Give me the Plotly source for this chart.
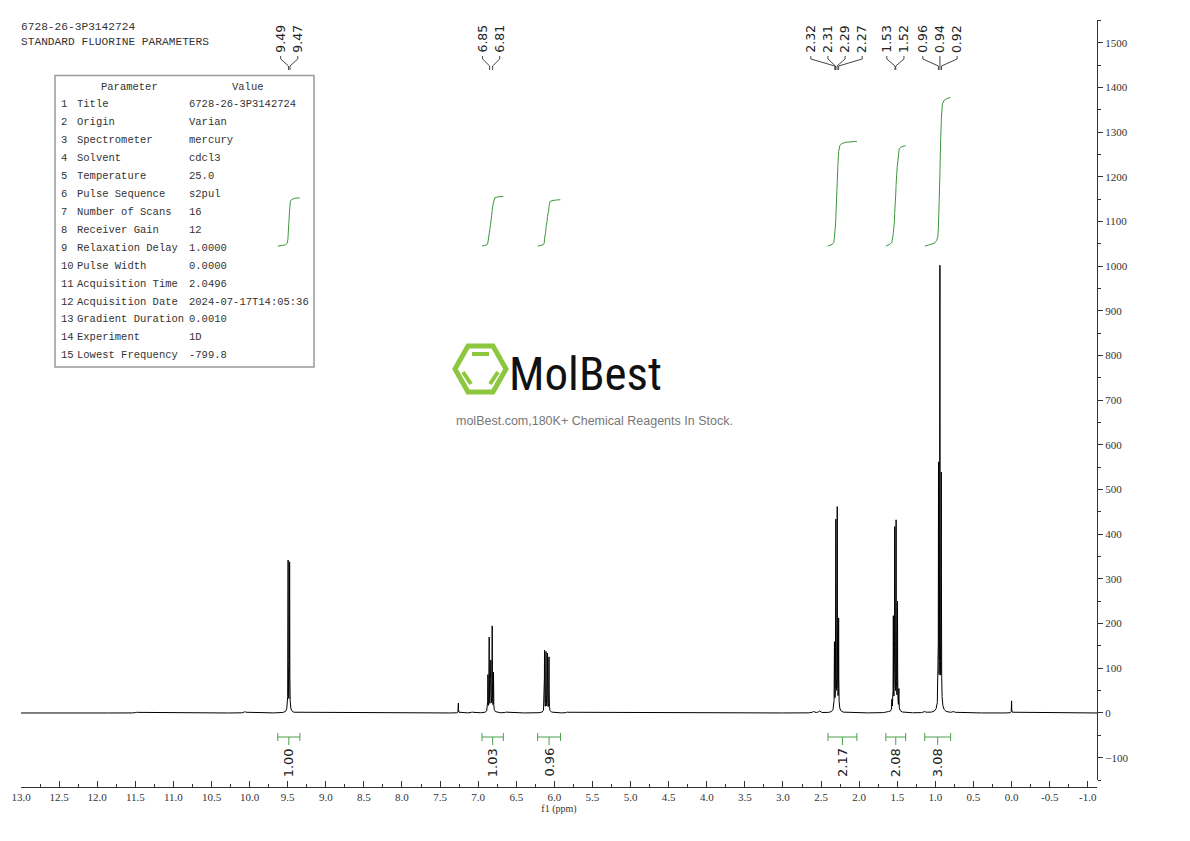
import numpy as np
import plotly.graph_objects as go

# ---------------- data ----------------
# main resonances (ppm, peak height in spectrum units)
PEAK_PPM = [9.4945, 9.4747,
            7.2600,
            6.8725, 6.8555, 6.8385, 6.8330, 6.8160, 6.7990,
            6.1294, 6.1096, 6.0904, 6.0706,
            2.3245, 2.3063, 2.2880, 2.2698,
            1.5700, 1.5518, 1.5336, 1.5154, 1.4972, 1.4790,
            0.9588, 0.9405, 0.9222,
            0.0000]
PEAK_HEIGHT = [336, 332,
               22,
               80, 163, 95, 100, 188, 85,
               137, 132, 128, 122,
               147, 420, 448, 200,
               22, 205, 402, 417, 237, 45,
               538, 980, 515,
               27]
# tiny impurity bumps on the baseline
MINOR_PPM = [11.48, 10.06, 7.08, 6.63, 5.83, 2.60, 2.52, 1.63, 1.14, 0.76]
MINOR_HEIGHT = [2, 3, 2, 2, 2, 3, 4, 2, 3, 3]

PEAK_LABELS = [9.49, 9.47, 6.85, 6.81, 2.32, 2.31, 2.29, 2.27,
               1.53, 1.52, 0.96, 0.94, 0.92]

INTEGRAL_VALUES = [1.00, 1.03, 0.96, 2.17, 2.08, 3.08]
INTEGRAL_FROM = [9.63, 6.95, 6.22, 2.41, 1.65, 1.14]
INTEGRAL_TO = [9.34, 6.67, 5.92, 2.03, 1.39, 0.80]

X_TICK_VALUES = [13.0 - 0.5 * i for i in range(29)]
X_TICK_TEXT = ["%.1f" % v for v in X_TICK_VALUES]
Y_TICK_VALUES = [-100 + 100 * i for i in range(17)]

HEADER_LINES = ["6728-26-3P3142724", "STANDARD FLUORINE PARAMETERS"]
TABLE_HEAD = ["Parameter", "Value"]
TABLE_PARAMS = ["Title", "Origin", "Spectrometer", "Solvent", "Temperature",
                "Pulse Sequence", "Number of Scans", "Receiver Gain",
                "Relaxation Delay", "Pulse Width", "Acquisition Time",
                "Acquisition Date", "Gradient Duration", "Experiment",
                "Lowest Frequency"]
TABLE_VALUES = ["6728-26-3P3142724", "Varian", "mercury", "cdcl3", "25.0",
                "s2pul", "16", "12", "1.0000", "0.0000", "2.0496",
                "2024-07-17T14:05:36", "0.0010", "1D", "-799.8"]
BRAND = "MolBest"
SLOGAN = "molBest.com,180K+ Chemical Reagents In Stock."

# ---------------- styling / layout constants ----------------
# the page body adds an 8 px margin; the figure is sized to fit inside it
OFF = 8
W, H = 1190 - 2 * OFF, 841 - 2 * OFF
PLOT_L, PLOT_R, PLOT_T, PLOT_B = 21, 1097, 20, 787      # plot area in screen pixels
ML, MT = PLOT_L - OFF, PLOT_T - OFF
MR, MB = W - (PLOT_R - OFF), H - (PLOT_B - OFF)
PW, PH = PLOT_R - PLOT_L, PLOT_B - PLOT_T
X_RANGE = [13.0, -1.121]
Y_RANGE = [-150, 1551]
LINE_FWHM = 0.0035
FOOT_FWHM = 0.035
FOOT_FRAC = 0.025
MINOR_FWHM = 0.03
INT_BASE = 1045
INT_UNIT = 108
GREEN = "#3c963c"
GREEN_BR = "#4aa04a"
AXC = "#333333"


def px(x):
    return (x - PLOT_L) / PW


def py(y):
    return (PLOT_B - y) / PH


def lor(x, x0, w):
    return 1.0 / (1.0 + ((x - x0) / (w / 2.0)) ** 2)


# ---------------- spectrum ----------------
grid = [np.arange(-1.15, 13.05, 0.004)]
for p in PEAK_PPM:
    grid.append(np.arange(p - 0.08, p + 0.08, 0.0004))
x = np.unique(np.round(np.concatenate(grid), 5))
y = np.zeros_like(x)
for p, h in zip(PEAK_PPM, PEAK_HEIGHT):
    y += h * ((1 - FOOT_FRAC) * lor(x, p, LINE_FWHM) + FOOT_FRAC * lor(x, p, FOOT_FWHM))
for p, h in zip(MINOR_PPM, MINOR_HEIGHT):
    y += h * lor(x, p, MINOR_FWHM)

fig = go.Figure()
fig.add_trace(go.Scatter(x=x, y=y, mode="lines", line=dict(color="black", width=1),
                         hoverinfo="skip", showlegend=False))

# ---------------- integral curves ----------------
shapes = []
annotations = []
for val, a, b in zip(INTEGRAL_VALUES, INTEGRAL_FROM, INTEGRAL_TO):
    m = (x <= a) & (x >= b)
    xs = x[m][::-1]
    ys = y[m][::-1]
    cum = np.concatenate([[0], np.cumsum(0.5 * (ys[1:] + ys[:-1]) * np.abs(np.diff(xs)))])
    cum = cum / cum[-1]
    fig.add_trace(go.Scatter(x=xs, y=INT_BASE + val * INT_UNIT * cum, mode="lines",
                             line=dict(color=GREEN, width=1), hoverinfo="skip",
                             showlegend=False))
    c = (a + b) / 2
    yb = py(737)
    shapes.append(dict(type="line", xref="x", yref="paper", x0=a, x1=b, y0=yb, y1=yb,
                       line=dict(color=GREEN_BR, width=1)))
    for xe in (a, b):
        shapes.append(dict(type="line", xref="x", yref="paper", x0=xe, x1=xe,
                           y0=py(733), y1=py(741), line=dict(color=GREEN_BR, width=1)))
    shapes.append(dict(type="line", xref="x", yref="paper", x0=c, x1=c, y0=yb, y1=py(745),
                       line=dict(color=GREEN_BR, width=1)))
    annotations.append(dict(x=c, xref="x", y=py(746), yref="paper", text="%.2f" % val,
                            textangle=-90, showarrow=False, xanchor="center", yanchor="top",
                            font=dict(family="DejaVu Sans", size=13, color="#222")))


# ---------------- peak labels ----------------
def spread(vals, gap=0.1, step=0.225):
    groups = []
    for v in vals:
        if groups and groups[-1][-1] - v < gap:
            groups[-1].append(v)
        else:
            groups.append([v])
    pos = []
    for g in groups:
        cc = float(np.mean(g))
        n = len(g)
        pos += [cc + step * ((n - 1) / 2 - i) for i in range(n)]
    for i in range(1, len(pos)):
        if pos[i - 1] - pos[i] < step:
            pos[i] = pos[i - 1] - step
    return pos


for lab, lx in zip(PEAK_LABELS, spread(PEAK_LABELS)):
    annotations.append(dict(x=lx, xref="x", y=py(55), yref="paper", text="%.2f" % lab,
                            textangle=-90, showarrow=False, xanchor="center",
                            yanchor="bottom",
                            font=dict(family="DejaVu Sans", size=12.5, color="#222")))
    path = "M %f,%f L %f,%f L %f,%f L %f,%f" % (lx, py(56), lx, py(59), lab, py(66),
                                                lab, py(70))
    shapes.append(dict(type="path", xref="x", yref="paper", path=path,
                       line=dict(color="#444", width=1)))

# ---------------- header & parameter table ----------------
head_font = dict(family="Liberation Mono", size=11.2, color="#333")
mono = dict(family="Liberation Mono", size=10.5, color="#333")
for i, t in enumerate(HEADER_LINES):
    annotations.append(dict(x=px(19), y=py(27.5 + 15 * i), xref="paper", yref="paper", text=t,
                            showarrow=False, xanchor="left", yanchor="middle",
                            font=head_font))
shapes.append(dict(type="rect", xref="paper", yref="paper", x0=px(55), x1=px(314),
                   y0=py(75.5), y1=py(367), line=dict(color="#9a9a9a", width=1.5)))
annotations.append(dict(x=px(130), y=py(87), xref="paper", yref="paper", text=TABLE_HEAD[0],
                        showarrow=False, xanchor="center", yanchor="middle", font=mono))
annotations.append(dict(x=px(248), y=py(87), xref="paper", yref="paper", text=TABLE_HEAD[1],
                        showarrow=False, xanchor="center", yanchor="middle", font=mono))
for i, (nm, vv) in enumerate(zip(TABLE_PARAMS, TABLE_VALUES)):
    yy = py(104.3 + i * 17.93)
    annotations.append(dict(x=px(59), y=yy, xref="paper", yref="paper", text=str(i + 1),
                            showarrow=False, xanchor="left", yanchor="middle", font=mono))
    annotations.append(dict(x=px(75), y=yy, xref="paper", yref="paper", text=nm,
                            showarrow=False, xanchor="left", yanchor="middle", font=mono))
    annotations.append(dict(x=px(187), y=yy, xref="paper", yref="paper", text=vv,
                            showarrow=False, xanchor="left", yanchor="middle", font=mono))

# ---------------- watermark ----------------
hexpts = [(455, 369), (468, 346), (493, 346), (506, 369), (493, 392), (468, 392)]
hpath = "M " + " L ".join("%f,%f" % (px(a), py(b)) for a, b in hexpts) + " Z"
shapes.append(dict(type="path", xref="paper", yref="paper", path=hpath,
                   line=dict(color="#8dc63f", width=5)))
for (a0, b0, a1, b1) in [(472, 354, 489, 354), (463, 372, 471, 384), (498, 372, 490, 384)]:
    shapes.append(dict(type="line", xref="paper", yref="paper", x0=px(a0), y0=py(b0),
                       x1=px(a1), y1=py(b1), line=dict(color="#8dc63f", width=4)))
annotations.append(dict(x=px(507), y=py(373), xref="paper", yref="paper", text=BRAND,
                        showarrow=False, xanchor="left", yanchor="middle",
                        font=dict(family="Liberation Sans Narrow, Roboto Condensed, "
                                         "DejaVu Sans Condensed, Liberation Sans",
                                  size=47, color="#111")))
annotations.append(dict(x=px(594), y=py(421), xref="paper", yref="paper", text=SLOGAN,
                        showarrow=False, xanchor="center", yanchor="middle",
                        font=dict(family="Liberation Sans", size=12.5, color="#777")))

tickfont = dict(family="Liberation Serif", size=11, color=AXC)
fig.update_layout(
    width=W, height=H,
    margin=dict(l=ML, r=MR, t=MT, b=MB, autoexpand=False),
    plot_bgcolor="white", paper_bgcolor="white", showlegend=False,
    xaxis=dict(range=X_RANGE, anchor="free", position=0, showline=True, linecolor=AXC,
               linewidth=1, ticks="inside", ticklen=6, tickcolor=AXC,
               tickmode="array", tickvals=X_TICK_VALUES, ticktext=X_TICK_TEXT,
               tickfont=tickfont, showgrid=False, zeroline=False,
               minor=dict(ticks="inside", ticklen=3, dtick=0.25, tick0=0, tickcolor=AXC,
                          showgrid=False),
               title=dict(text="f1 (ppm)", standoff=1,
                          font=dict(family="Liberation Serif", size=10, color=AXC))),
    yaxis=dict(range=Y_RANGE, domain=[7 / PH, 1], side="right", anchor="x", showline=True,
               linecolor=AXC, linewidth=1, ticks="outside", ticklen=5, tickcolor=AXC,
               tickmode="array", tickvals=Y_TICK_VALUES, tickfont=tickfont,
               showgrid=False, zeroline=False,
               minor=dict(ticks="outside", ticklen=3, dtick=50, tick0=0, tickcolor=AXC,
                          showgrid=False)),
    shapes=shapes, annotations=annotations,
)

fig.write_html("out.html")
